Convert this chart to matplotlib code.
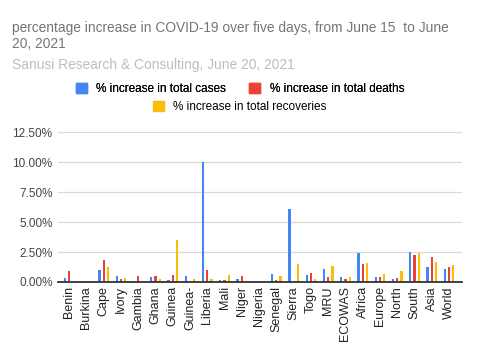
import numpy as np
import matplotlib.pyplot as plt
from matplotlib.ticker import FuncFormatter
from matplotlib.patches import Patch

plt.rcParams['font.family'] = ['Liberation Sans', 'DejaVu Sans']

countries = ['Benin', 'Burkina', 'Cape', 'Ivory', 'Gambia', 'Ghana', 'Guinea',
             'Guinea-', 'Liberia', 'Mali', 'Niger', 'Nigeria', 'Senegal', 'Sierra',
             'Togo', 'MRU', 'ECOWAS', 'Africa', 'Europe', 'North', 'South', 'Asia',
             'World']

# percent increase over five days
cases = [0.34, 0.05, 0.98, 0.50, 0.10, 0.42, 0.17, 0.50, 10.0, 0.17, 0.25, 0.05,
         0.67, 6.08, 0.59, 1.06, 0.42, 2.38, 0.42, 0.25, 2.52, 1.23, 1.06]
deaths = [0.90, 0.0, 1.82, 0.25, 0.50, 0.53, 0.59, 0.0, 0.98, 0.17, 0.50, 0.0,
          0.17, 0.0, 0.76, 0.42, 0.25, 1.48, 0.42, 0.34, 2.24, 2.07, 1.23]
recoveries = [0.0, 0.10, 1.26, 0.34, 0.03, 0.25, 3.53, 0.28, 0.25, 0.59, 0.10, 0.05,
              0.50, 1.48, 0.25, 1.34, 0.42, 1.57, 0.67, 0.90, 2.38, 1.65, 1.40]

blue = '#4285f4'
red = '#ea4335'
yellow = '#fbbc04'

fig = plt.figure(figsize=(4.8, 3.6), dpi=100)
ax = fig.add_axes([0.121, 0.2167, 0.8415, 0.4158])

x = np.arange(len(countries))
w = 0.13
off = 0.245
ax.bar(x - off, np.array(cases) / 100, w, color=blue, zorder=3)
ax.bar(x, np.array(deaths) / 100, w, color=red, zorder=3)
ax.bar(x + off, np.array(recoveries) / 100, w, color=yellow, zorder=3)

ax.set_ylim(0, 0.125)
ax.set_xlim(-0.64, 22.75)
ax.set_yticks(np.arange(0, 0.1251, 0.025))
ax.yaxis.set_major_formatter(FuncFormatter(lambda v, p: f'{v*100:.2f}%'))
ax.yaxis.grid(True, color='#d9d9d9', linewidth=0.9, zorder=0)
ax.set_xticks(x)
ax.set_xticklabels(countries, rotation=90, fontsize=9, color='#222222')
ax.tick_params(axis='y', labelsize=8.5, labelcolor='#444444', length=0, pad=4)
ax.tick_params(axis='x', length=0, pad=3)
for s in ['top', 'right', 'left']:
    ax.spines[s].set_visible(False)
ax.spines['bottom'].set_color('#333333')
ax.spines['bottom'].set_linewidth(1.3)
ax.spines['bottom'].set_zorder(4)

fig.text(0.025, 0.942, 'percentage increase in COVID-19 over five days, from June 15  to June\n20, 2021',
         fontsize=9.9, color='#757575', va='top', linespacing=1.2)
fig.text(0.025, 0.84, 'Sanusi Research & Consulting, June 20, 2021',
         fontsize=9.9, color='#bdbdbd', va='top')

h1 = [Patch(color=blue, label='% increase in total cases'),
      Patch(color=red, label='% increase in total deaths')]
h2 = [Patch(color=yellow, label='% increase in total recoveries')]
leg1 = fig.legend(handles=h1, loc='center', bbox_to_anchor=(0.5, 0.753), ncol=2,
                  frameon=False, fontsize=8.5, handlelength=0.9, handleheight=0.9,
                  handletextpad=0.8, columnspacing=2.0)
fig.legend(handles=h2, loc='center', bbox_to_anchor=(0.5, 0.703), frameon=False,
           fontsize=8.5, handlelength=0.9, handleheight=0.9, handletextpad=0.8)
fig.add_artist(leg1)

fig.savefig('out.png', dpi=100)
